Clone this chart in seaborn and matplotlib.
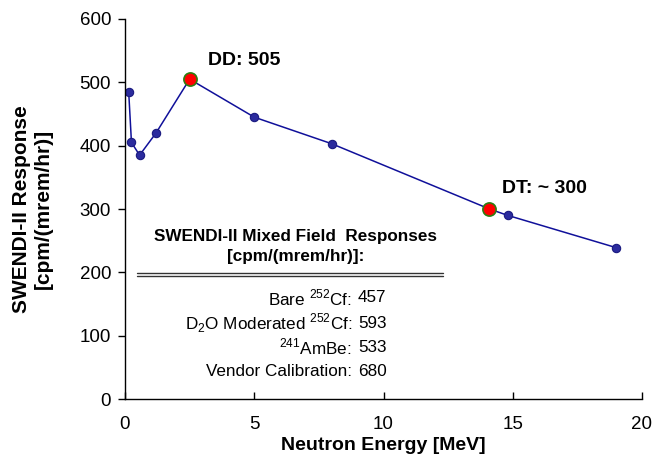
import matplotlib
matplotlib.use("Agg")
import matplotlib.pyplot as plt
import seaborn as sns
import pandas as pd
from matplotlib.lines import Line2D

energy = [0.144, 0.25, 0.565, 1.2, 2.5, 5.0, 8.0, 14.1, 14.8, 19.0]
response = [484, 405, 385, 420, 505, 445, 403, 300, 290, 239]
highlight_energy = [2.5, 14.1]
highlight_response = [505, 300]
highlight_labels = ["DD: 505", "DT: ~ 300"]
table_labels = ["Bare $^{252}$Cf:", "D$_2$O Moderated $^{252}$Cf:", "$^{241}$AmBe:", "Vendor Calibration:"]
table_values = ["457", "593", "533", "680"]

sns.set_style("white")
plt.rcParams["font.family"] = ["Liberation Sans", "DejaVu Sans"]
plt.rcParams["mathtext.fontset"] = "custom"
plt.rcParams["mathtext.rm"] = "Liberation Sans"
for k in ["text.color", "axes.labelcolor", "xtick.color", "ytick.color"]:
    plt.rcParams[k] = "black"

fig = plt.figure(figsize=(6.54, 4.68), dpi=100)
ax = fig.add_axes([125/654, 69/468, 517/654, 380/468])

df = pd.DataFrame({"E": energy, "R": response})
sns.lineplot(data=df, x="E", y="R", ax=ax, color="#10109a", linewidth=1.1,
             marker="o", markersize=6, markerfacecolor="#2b2b9e",
             markeredgecolor="#1a1a80", markeredgewidth=0.8, sort=False)
hdf = pd.DataFrame({"E": highlight_energy, "R": highlight_response})
sns.scatterplot(data=hdf, x="E", y="R", ax=ax, color="#ff0000", s=90,
                edgecolor="#2e7d10", linewidth=1.2, zorder=5)

ax.text(3.2, 534, highlight_labels[0], fontsize=14, fontweight="bold", ha="left", va="center")
ax.text(14.6, 332, highlight_labels[1], fontsize=14, fontweight="bold", ha="left", va="center")

ax.set_xlim(0, 20)
ax.set_ylim(0, 600)
ax.set_xticks([0, 5, 10, 15, 20])
ax.set_yticks([0, 100, 200, 300, 400, 500, 600])
ax.tick_params(axis="y", direction="out", length=5, width=1, labelsize=13.5, left=True, pad=5)
ax.tick_params(axis="x", direction="in", length=5, width=1, labelsize=13.5, bottom=True, pad=12)
for s in ["top", "right"]:
    ax.spines[s].set_visible(False)
for s in ["left", "bottom"]:
    ax.spines[s].set_color("black")
    ax.spines[s].set_linewidth(1)

ax.set_xlabel("Neutron Energy [MeV]", fontsize=14, fontweight="bold", labelpad=3)
ax.set_ylabel("SWENDI-II Response\n[cpm/(mrem/hr)]", fontsize=15, fontweight="bold", labelpad=19)

# table-like inset
def fx(px):
    return (px - 125) / 517

def fy(py):
    return (399 - py) / 380

ax.text(fx(296), fy(237), "SWENDI-II Mixed Field  Responses", transform=ax.transAxes,
        ha="center", va="center", fontsize=12.3, fontweight="bold")
ax.text(fx(296), fy(256), "[cpm/(mrem/hr)]:", transform=ax.transAxes,
        ha="center", va="center", fontsize=12.3, fontweight="bold")
for yy in [272.5, 275.5]:
    ax.add_line(Line2D([fx(137), fx(443)], [fy(yy), fy(yy)], transform=ax.transAxes,
                       color="#333333", linewidth=1))
ys = [298, 323, 347, 371]
for lab, val, yp in zip(table_labels, table_values, ys):
    ax.text(fx(352), fy(yp), lab, transform=ax.transAxes,
            ha="right", va="center", fontsize=12.3)
    ax.text(fx(358), fy(yp), val, transform=ax.transAxes,
            ha="left", va="center", fontsize=12.3)

fig.savefig("out.png", dpi=100)
